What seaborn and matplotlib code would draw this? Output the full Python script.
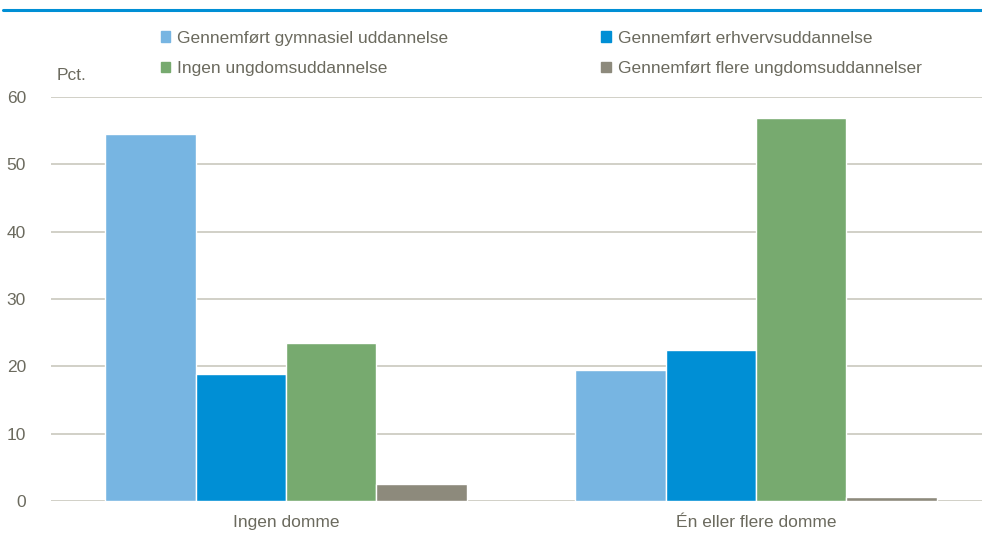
import numpy as np
import pandas as pd
import matplotlib
matplotlib.use("Agg")
import matplotlib.pyplot as plt
import seaborn as sns
from matplotlib.lines import Line2D
from matplotlib.patches import Patch

# data
categories = ['Ingen domme', 'Én eller flere domme']
series = ['Gennemført gymnasiel uddannelse', 'Gennemført erhvervsuddannelse',
          'Ingen ungdomsuddannelse', 'Gennemført flere ungdomsuddannelser']
gymnasiel = [54.5, 19.4]
erhverv = [18.9, 22.5]
ingen = [23.5, 56.9]
flere = [2.5, 0.6]
colors = ['#77b5e2', '#008fd5', '#77aa6f', '#8d8a7c']
yticks = [0, 10, 20, 30, 40, 50, 60]

rows = []
for name, vals in zip(series, [gymnasiel, erhverv, ingen, flere]):
    for cat, v in zip(categories, vals):
        rows.append({'kategori': cat, 'serie': name, 'pct': v})
df = pd.DataFrame(rows)

sns.set_style('white')
plt.rcParams['font.family'] = ['Liberation Sans', 'DejaVu Sans']
txt = '#6b6a5e'
grid = '#c9c8bd'

fig = plt.figure(figsize=(9.82, 5.39), dpi=100)
ax = fig.add_axes([51/982, 38/539, 940/982, 404/539])

sns.barplot(data=df, x='kategori', y='pct', hue='serie', hue_order=series,
            palette=colors, width=0.77, gap=0, edgecolor='white', linewidth=1,
            saturation=1, legend=False, ax=ax)

ax.set_ylim(0, 60)
ax.set_xlim(-0.5, 1.5)
ax.set_yticks(yticks)
ax.yaxis.grid(True, color=grid, linewidth=1.2)
ax.set_axisbelow(True)
for s in ax.spines.values():
    s.set_visible(False)
ax.tick_params(axis='both', length=0, labelsize=12.5, colors=txt)
ax.tick_params(axis='y', pad=18)
ax.tick_params(axis='x', pad=10)
ax.set_xlabel('')
ax.set_ylabel('')

fig.text(57/982, 1 - 76/539, 'Pct.', fontsize=12.5, color=txt, va='center')

# legend: row-wise order via column fill
handles = [Patch(color=c) for c in colors]
order = [0, 2, 1, 3]
leg = fig.legend([handles[i] for i in order], [series[i] for i in order],
                 ncol=2, loc='upper left', bbox_to_anchor=(145/982, 1 - 15/539),
                 frameon=False, fontsize=12.5, handlelength=0.55, handleheight=0.55,
                 handletextpad=0.4, columnspacing=8.8, labelspacing=0.9)
for t in leg.get_texts():
    t.set_color(txt)

# blue rule at the top
fig.add_artist(Line2D([3/982, 1], [1 - 10/539, 1 - 10/539], color='#008fd5',
                      linewidth=2.2, transform=fig.transFigure))

fig.savefig('out.png', dpi=100)
